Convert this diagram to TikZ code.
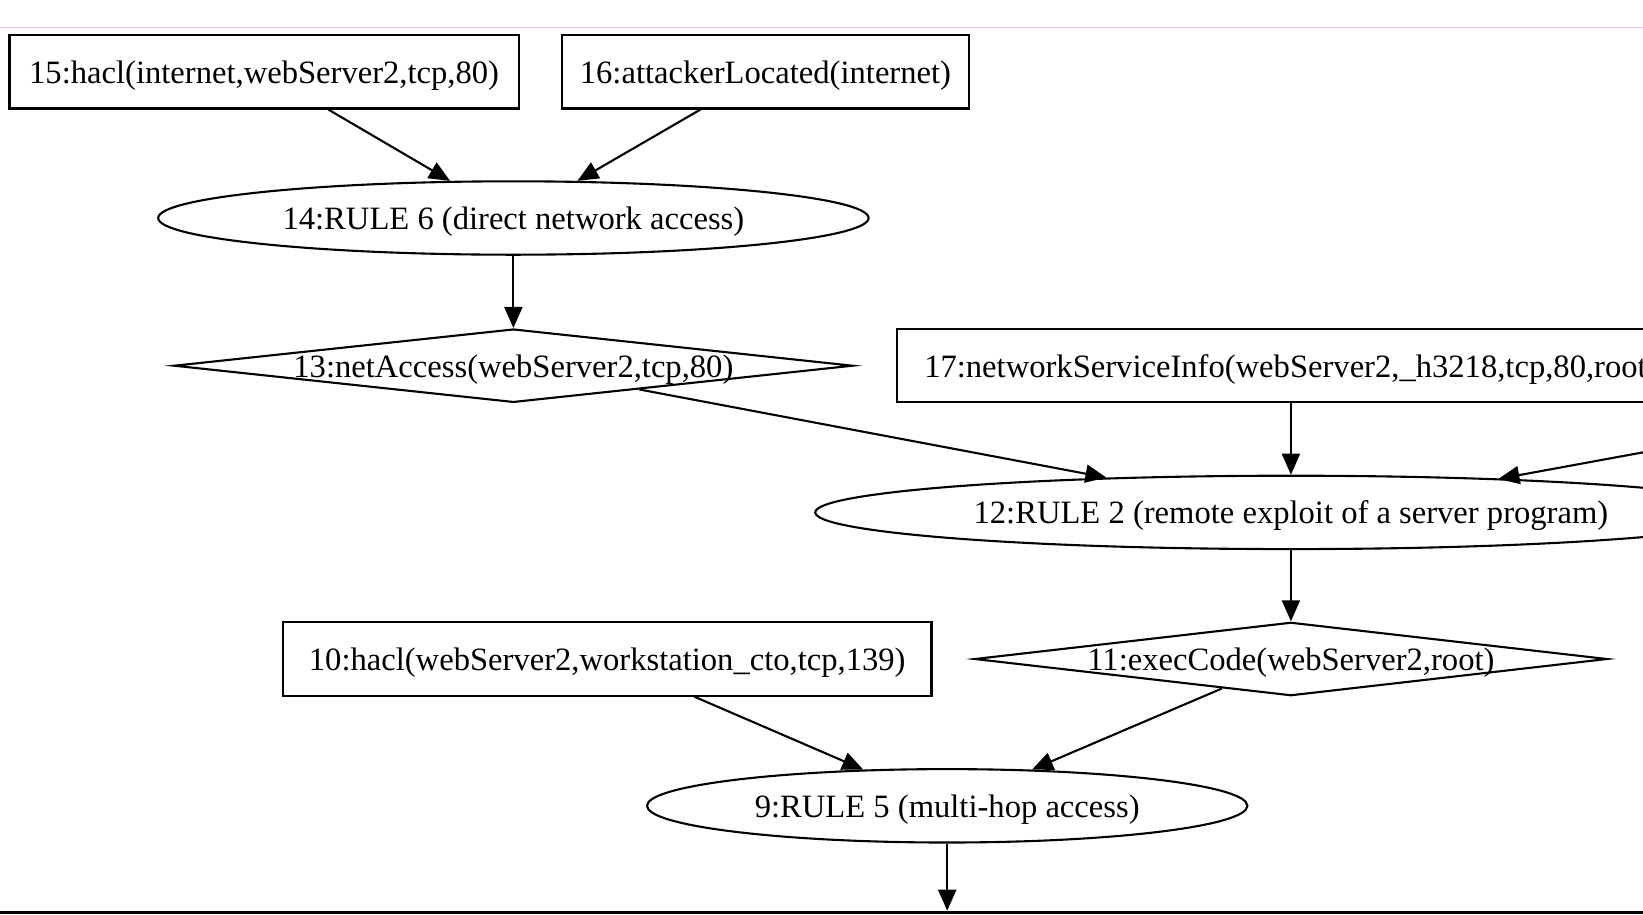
\documentclass[tikz,border=0pt]{standalone}
\usepackage{fontspec}
\setmainfont{Liberation Serif}
\usetikzlibrary{shapes.geometric,arrows.meta}
\definecolor{pinkline}{RGB}{238,200,240}
\tikzset{
  txt/.style={font=\fontsize{32.6}{39}\selectfont, text depth=0pt},
  base/.style={draw=black, line width=2.1pt, inner sep=0pt, txt, minimum height=73.4pt},
  fact/.style={base, rectangle},
  rule/.style={base, ellipse},
  deriv/.style={base, diamond},
  arr/.style={draw=black, line width=2.1pt, -{Triangle[length=21pt,width=18pt]}},
}
\begin{document}
\begin{tikzpicture}[x=1pt,y=-1pt]
\useasboundingbox (0,0) rectangle (1643,914);
\fill[white] (0,0) rectangle (1643,914);
\draw[pinkline, line width=1.2pt] (0,27.2) -- (1643,27.2);
\fill[black] (0,910.7) rectangle (1643,914);

\node[fact, minimum width=509.3pt] (n15) at (264.1,71.8) {15:hacl(internet,webServer2,tcp,80)};
\node[fact, minimum width=407.6pt] (n16) at (765.4,71.8) {16:attackerLocated(internet)};
\node[rule, minimum width=710.4pt] (n14) at (513.4,218) {14:RULE 6 (direct network access)};
\node[deriv, minimum width=679pt, label={[txt]center:13:netAccess(webServer2,tcp,80)}] (n13) at (513.4,365.7) {};
\node[fact, minimum width=787.8pt] (n17) at (1290.9,365.7) {17:networkServiceInfo(webServer2,\_h3218,tcp,80,root)};
\node[rule, minimum width=951.4pt] (n12) at (1290.9,512.4) {12:RULE 2 (remote exploit of a server program)};
\node[deriv, minimum width=632.8pt, label={[txt]center:11:execCode(webServer2,root)}] (n11) at (1290.9,659) {};
\node[fact, minimum width=648.6pt] (n10) at (607.2,659) {10:hacl(webServer2,workstation\_cto,tcp,139)};
\node[rule, minimum width=600.4pt] (n9) at (947.2,805.8) {9:RULE 5 (multi-hop access)};

\coordinate (src) at (1720,438.2);
\coordinate (n12in) at ([shift={(207.5,-33.5)}]n12.center);
\coordinate (bot) at (947.2,910.7);

\draw[arr] (n15) -- (n14);
\draw[arr] (n16) -- (n14);
\draw[arr] (n14) -- (n13);
\draw[arr] (n13) -- (n12);
\draw[arr] (n17) -- (n12);
\draw[arr] (src) -- (n12in);
\draw[arr] (n12) -- (n11);
\draw[arr] (n10) -- (n9);
\draw[arr] (n11) -- (n9);
\draw[arr] (n9) -- (bot);
\end{tikzpicture}
\end{document}
